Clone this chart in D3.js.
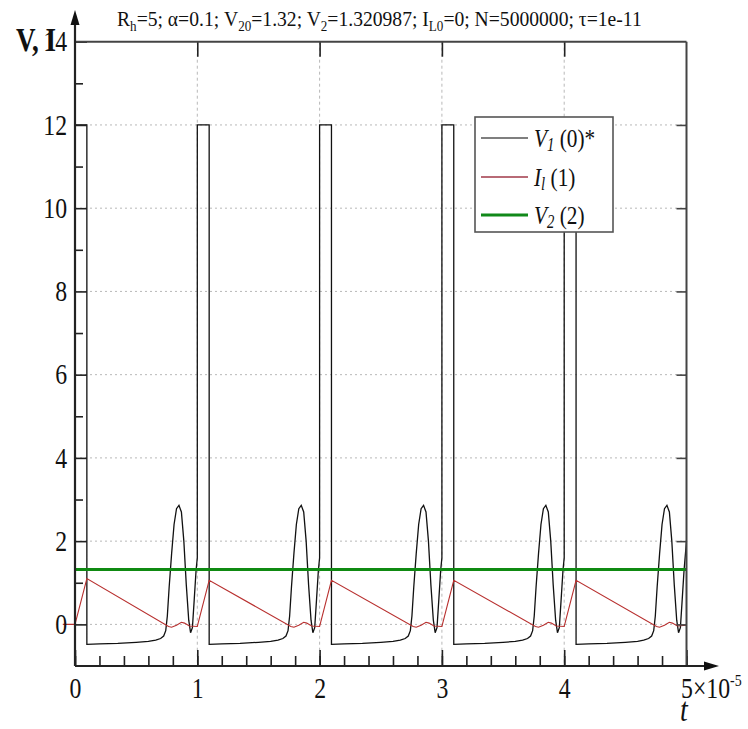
<!DOCTYPE html>
<html>
<head>
<meta charset="utf-8">
<script src="https://cdn.jsdelivr.net/npm/d3@7"></script>
<style>
  body { margin: 0; background: #fff; }
  text { font-family: "Liberation Serif", "DejaVu Serif", serif; fill: #111; }
</style>
</head>
<body>
<svg id="chart" width="748" height="729"></svg>
<script>
// ---- data (t in units of 1e-5) ----
const xMajorTicks = [0, 1, 2, 3, 4, 5];
const xMinorTicks = d3.range(0, 5.0001, 0.2).map(v => +v.toFixed(1));
const yMajorTicks = [0, 2, 4, 6, 8, 10, 12, 14];
const yMinorTicks = [1, 3, 5, 7, 9, 11, 13];
const xTickLabels = ["0", "1", "2", "3", "4", ""];

// V1: voltage on the first node
const v1Series = [
  [0, 0], [0, 12], [0.097, 12], [0.097, -0.48],
  [0.2, -0.47], [0.35, -0.455], [0.5, -0.43], [0.6, -0.41], [0.66, -0.38], [0.7, -0.34],
  [0.725, -0.28], [0.742, -0.15], [0.755, 0.2], [0.77, 0.9], [0.79, 1.7], [0.81, 2.4],
  [0.83, 2.78], [0.85, 2.86], [0.87, 2.7], [0.89, 2.0], [0.91, 0.95], [0.93, 0.1],
  [0.945, -0.2], [0.96, -0.08], [0.975, 0.6], [0.99, 1.3], [1.0, 1.6], [1.0, 12],
  [1.097, 12], [1.097, -0.48],
  [1.2, -0.47], [1.35, -0.455], [1.5, -0.43], [1.6, -0.41], [1.66, -0.38], [1.7, -0.34],
  [1.725, -0.28], [1.742, -0.15], [1.755, 0.2], [1.77, 0.9], [1.79, 1.7], [1.81, 2.4],
  [1.83, 2.78], [1.85, 2.86], [1.87, 2.7], [1.89, 2.0], [1.91, 0.95], [1.93, 0.1],
  [1.945, -0.2], [1.96, -0.08], [1.975, 0.6], [1.99, 1.3], [2.0, 1.6], [2.0, 12],
  [2.097, 12], [2.097, -0.48],
  [2.2, -0.47], [2.35, -0.455], [2.5, -0.43], [2.6, -0.41], [2.66, -0.38], [2.7, -0.34],
  [2.725, -0.28], [2.742, -0.15], [2.755, 0.2], [2.77, 0.9], [2.79, 1.7], [2.81, 2.4],
  [2.83, 2.78], [2.85, 2.86], [2.87, 2.7], [2.89, 2.0], [2.91, 0.95], [2.93, 0.1],
  [2.945, -0.2], [2.96, -0.08], [2.975, 0.6], [2.99, 1.3], [3.0, 1.6], [3.0, 12],
  [3.097, 12], [3.097, -0.48],
  [3.2, -0.47], [3.35, -0.455], [3.5, -0.43], [3.6, -0.41], [3.66, -0.38], [3.7, -0.34],
  [3.725, -0.28], [3.742, -0.15], [3.755, 0.2], [3.77, 0.9], [3.79, 1.7], [3.81, 2.4],
  [3.83, 2.78], [3.85, 2.86], [3.87, 2.7], [3.89, 2.0], [3.91, 0.95], [3.93, 0.1],
  [3.945, -0.2], [3.96, -0.08], [3.975, 0.6], [3.99, 1.3], [4.0, 1.6], [4.0, 12],
  [4.097, 12], [4.097, -0.48],
  [4.2, -0.47], [4.35, -0.455], [4.5, -0.43], [4.6, -0.41], [4.65, -0.38], [4.69, -0.34],
  [4.715, -0.28], [4.732, -0.15], [4.745, 0.2], [4.76, 0.9], [4.78, 1.7], [4.80, 2.4],
  [4.82, 2.78], [4.84, 2.86], [4.86, 2.7], [4.88, 2.0], [4.90, 0.95], [4.92, 0.1],
  [4.935, -0.2], [4.95, -0.08], [4.965, 0.6], [4.98, 1.3], [5.0, 2.0]
];

// I_l: inductor current
const ilSeries = [
  [-0.1, 0], [0, 0], [0.097, 1.1],
  [0.765, -0.05], [0.79, -0.07], [0.83, -0.02], [0.87, 0.05], [0.895, 0.03], [0.935, -0.04], [1.0, -0.05],
  [1.097, 1.06],
  [1.765, -0.05], [1.79, -0.07], [1.83, -0.02], [1.87, 0.05], [1.895, 0.03], [1.935, -0.04], [2.0, -0.05],
  [2.097, 1.06],
  [2.765, -0.05], [2.79, -0.07], [2.83, -0.02], [2.87, 0.05], [2.895, 0.03], [2.935, -0.04], [3.0, -0.05],
  [3.097, 1.06],
  [3.765, -0.05], [3.79, -0.07], [3.83, -0.02], [3.87, 0.05], [3.895, 0.03], [3.935, -0.04], [4.0, -0.05],
  [4.097, 1.06],
  [4.755, -0.05], [4.78, -0.07], [4.82, -0.02], [4.86, 0.05], [4.885, 0.03], [4.925, -0.04], [5.0, -0.02]
];

// V2: constant output voltage
const v2Series = [[0, 1.320987], [5, 1.320987]];

const seriesColors = ["#111111", "#b8302f", "#0f8a12"];
const legendColors = ["#555555", "#a03848", "#11891a"];
const legendLabels = [
  [["V", "i"], ["1", "isub"], [" (0)*", ""]],
  [["I", "i"], ["l", "isub"], [" (1)", ""]],
  [["V", "i"], ["2", "isub"], [" (2)", ""]]
];
const titleParts = [
  ["R", ""], ["h", "sub"], ["=5; α=0.1; V", ""], ["20", "sub"], ["=1.32; V", ""], ["2", "sub"],
  ["=1.320987; I", ""], ["L0", "sub"], ["=0; N=5000000; τ=1e-11", ""]
];

// ---- layout ----
const svg = d3.select("#chart");
const plotLeft = 75, plotRight = 686.5, plotTop = 41.7, plotBottom = 666;
const x = d3.scaleLinear().domain([0, 5]).range([plotLeft, plotRight]);
const y = d3.scaleLinear().domain([-1, 14]).range([plotBottom, plotTop]);
const SQ = 0.82; // narrow serif face
const serif = "'Liberation Serif', 'Times New Roman', serif";

// grid
svg.append("g").selectAll("line").data([0, 2, 4, 6, 8, 10, 12]).join("line")
  .attr("x1", plotLeft).attr("x2", plotRight)
  .attr("y1", d => y(d)).attr("y2", d => y(d))
  .attr("stroke", "#b8b8b8").attr("stroke-width", 1).attr("stroke-dasharray", "2,3");
svg.append("g").selectAll("line").data([1, 2, 3, 4]).join("line")
  .attr("x1", d => x(d)).attr("x2", d => x(d))
  .attr("y1", plotTop).attr("y2", plotBottom)
  .attr("stroke", "#b8b8b8").attr("stroke-width", 1).attr("stroke-dasharray", "3,3");

// series
const line = d3.line().x(d => x(d[0])).y(d => y(d[1]));
svg.append("path").datum(v1Series).attr("d", line)
  .attr("fill", "none").attr("stroke", seriesColors[0]).attr("stroke-width", 1.3);
svg.append("path").datum(ilSeries).attr("d", line)
  .attr("fill", "none").attr("stroke", seriesColors[1]).attr("stroke-width", 1.1);
svg.append("path").datum(v2Series).attr("d", line)
  .attr("fill", "none").attr("stroke", seriesColors[2]).attr("stroke-width", 3);

// axes (ticks point inward)
function styleAxis(g) {
  g.select(".domain").remove();
  g.attr("font-family", null);
  g.selectAll(".tick line").attr("stroke", "#222").attr("stroke-width", 1.6);
}
const leftAxis = svg.append("g").attr("transform", `translate(${plotLeft},0)`)
  .call(d3.axisLeft(y).tickValues(yMajorTicks).tickSize(-12).tickPadding(8).tickFormat(d3.format("d")));
styleAxis(leftAxis);
leftAxis.selectAll("text").attr("font-size", 29).attr("fill", "#111")
  .style("font-family", serif)
  .attr("transform", `scale(${SQ},1)`).attr("x", -8 / SQ);
svg.append("g").attr("transform", `translate(${plotLeft},0)`)
  .call(d3.axisLeft(y).tickValues(yMinorTicks).tickSize(-8).tickFormat(""))
  .call(styleAxis);

const rightAxis = svg.append("g").attr("transform", `translate(${plotRight},0)`)
  .call(d3.axisRight(y).tickValues([0, 2, 4, 6, 8, 10, 12]).tickSize(-10).tickFormat(""));
styleAxis(rightAxis);
rightAxis.selectAll(".tick line").attr("stroke", "#444");

const topAxis = svg.append("g").attr("transform", `translate(0,${plotTop})`)
  .call(d3.axisTop(x).tickValues([1, 2, 3, 4]).tickSize(-15).tickFormat(""));
styleAxis(topAxis);

const bottomAxis = svg.append("g").attr("transform", `translate(0,${plotBottom})`)
  .call(d3.axisBottom(x).tickValues(xMajorTicks).tickSize(-16).tickPadding(11)
    .tickFormat((d, i) => xTickLabels[i]));
styleAxis(bottomAxis);
bottomAxis.selectAll("text").attr("font-size", 29).attr("fill", "#111")
  .style("font-family", serif)
  .attr("transform", `scale(${SQ},1)`);
svg.append("g").attr("transform", `translate(0,${plotBottom})`)
  .call(d3.axisBottom(x).tickValues(xMinorTicks).tickSize(-10).tickFormat(""))
  .call(styleAxis);

// frame and arrows
svg.append("line").attr("x1", plotLeft).attr("x2", plotRight).attr("y1", plotTop).attr("y2", plotTop)
  .attr("stroke", "#444").attr("stroke-width", 2);
svg.append("line").attr("x1", plotRight).attr("x2", plotRight).attr("y1", plotTop).attr("y2", plotBottom)
  .attr("stroke", "#444").attr("stroke-width", 2);
svg.append("line").attr("x1", plotLeft).attr("x2", plotLeft).attr("y1", plotBottom).attr("y2", 20)
  .attr("stroke", "#222").attr("stroke-width", 2.2);
svg.append("line").attr("x1", plotLeft).attr("x2", 708).attr("y1", plotBottom).attr("y2", plotBottom)
  .attr("stroke", "#222").attr("stroke-width", 2.2);
svg.append("path").attr("d", `M${plotLeft},10 L${plotLeft - 4.5},25 L${plotLeft + 4.5},25 Z`).attr("fill", "#111");
svg.append("path").attr("d", `M719,${plotBottom} L704,${plotBottom - 4.5} L704,${plotBottom + 4.5} Z`).attr("fill", "#111");

// axis titles
svg.append("text").attr("font-size", 33).attr("font-weight", "bold")
  .style("font-family", serif)
  .attr("text-anchor", "end")
  .attr("transform", `translate(56,${y(14) + 0.32 * 29}) scale(${SQ},1)`)
  .text("V, I");

const xMul = svg.append("text").attr("font-size", 29).style("font-family", serif)
  .attr("transform", `translate(681,${plotBottom + 11 + 0.71 * 29}) scale(${SQ},1)`);
xMul.append("tspan").text("5×10");
xMul.append("tspan").attr("font-size", 17).attr("dy", -12).text("-5");

svg.append("text").attr("font-size", 34).attr("font-style", "italic").style("font-family", serif)
  .attr("transform", `translate(680,721) scale(${SQ},1)`).text("t");

// header line
const title = svg.append("text").attr("font-size", 21).style("font-family", serif)
  .attr("transform", "translate(117,26)");
titleParts.forEach(([s, kind], i) => {
  const prev = i > 0 ? titleParts[i - 1][1] : "";
  const dy = kind === "sub" ? 5 : (prev === "sub" ? -5 : 0);
  title.append("tspan").attr("dy", dy).attr("font-size", kind === "sub" ? 14 : 21).text(s);
});
const tw = title.node().getBBox().width;
title.attr("transform", `translate(117,26) scale(${525 / tw},1)`);

// legend
const lg = svg.append("g");
lg.append("rect").attr("x", 475).attr("y", 117).attr("width", 138).attr("height", 115)
  .attr("fill", "#fff").attr("stroke", "#555").attr("stroke-width", 1.6);
const rowsY = [138, 177, 215];
legendLabels.forEach((parts, i) => {
  lg.append("line").attr("x1", 481).attr("x2", 528).attr("y1", rowsY[i]).attr("y2", rowsY[i])
    .attr("stroke", legendColors[i]).attr("stroke-width", i === 2 ? 3 : 1.5);
  const t = lg.append("text").attr("font-size", 26).style("font-family", serif)
    .attr("transform", `translate(534,${rowsY[i] + 9}) scale(${SQ},1)`);
  parts.forEach(([s, kind], j) => {
    const prev = j > 0 ? parts[j - 1][1] : "";
    const ts = t.append("tspan").text(s);
    if (kind === "i") ts.attr("font-style", "italic");
    if (kind === "isub") ts.attr("font-style", "italic").attr("font-size", 18).attr("dy", 4);
    if (prev === "isub") ts.attr("dy", -4);
  });
});
</script>
</body>
</html>
